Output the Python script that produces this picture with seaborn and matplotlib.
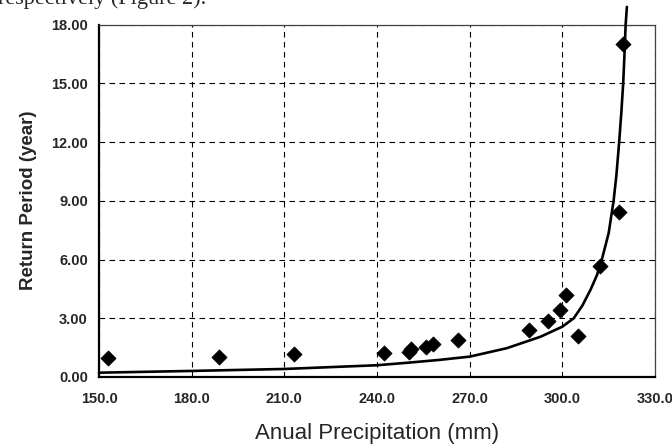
import matplotlib
matplotlib.use("Agg")
import matplotlib.pyplot as plt
import seaborn as sns
import pandas as pd
from matplotlib.ticker import MultipleLocator, FormatStrFormatter

# Observed points (annual precipitation mm, return period years)
obs_precip = [152.9, 189.0, 213.0, 242.3, 250.5, 250.9, 255.9, 258.0, 266.2,
              289.1, 295.3, 299.1, 301.1, 305.2, 312.2, 318.5, 319.8]
obs_period = [0.96, 1.03, 1.15, 1.22, 1.30, 1.42, 1.52, 1.69, 1.89,
              2.40, 2.84, 3.41, 4.21, 2.09, 5.65, 8.45, 16.98]

# Fitted curve
fit_precip = [150.0, 180.0, 210.0, 240.0, 250.0, 260.0, 270.0, 282.0, 293.0,
              300.0, 303.7, 306.5, 309.2, 311.2, 312.8, 315.0, 316.6, 317.5,
              318.4, 319.1, 319.7, 320.1, 320.5, 320.9]
fit_period = [0.22, 0.31, 0.41, 0.60, 0.73, 0.87, 1.04, 1.47, 2.06,
              2.57, 3.0, 3.65, 4.48, 5.2, 6.0, 7.35, 9.0, 10.3,
              12.0, 13.5, 15.0, 16.4, 18.0, 18.9]

x_ticks = [150, 180, 210, 240, 270, 300, 330]
y_ticks = [0, 3, 6, 9, 12, 15, 18]

obs = pd.DataFrame({"precip": obs_precip, "period": obs_period})
fit = pd.DataFrame({"precip": fit_precip, "period": fit_period})

sns.set_style("white")
plt.rcParams["font.family"] = ["Liberation Sans", "DejaVu Sans"]

fig = plt.figure(figsize=(6.72, 4.47), dpi=100)
ax = fig.add_axes([99 / 672, 1 - 377 / 447, (655 - 99) / 672, (377 - 24.5) / 447])

sns.lineplot(data=fit, x="precip", y="period", ax=ax, color="black",
             linewidth=1.9, sort=False, clip_on=False, zorder=3)
sns.scatterplot(data=obs, x="precip", y="period", ax=ax, marker="D",
                color="black", s=60, edgecolor="black", linewidth=0.5, zorder=4)

ax.set_xlim(150, 330)
ax.set_ylim(0, 18)
ax.set_xticks(x_ticks)
ax.set_yticks(y_ticks)
ax.xaxis.set_major_formatter(FormatStrFormatter("%.1f"))
ax.yaxis.set_major_formatter(FormatStrFormatter("%.2f"))
ax.xaxis.set_minor_locator(MultipleLocator(10))
ax.yaxis.set_minor_locator(MultipleLocator(1))

ax.grid(True, which="major", linestyle=(0, (5, 4)), color="black", linewidth=0.8)
ax.tick_params(axis="both", which="both", direction="in", color="black")
ax.tick_params(axis="both", which="major", length=5, width=1)
ax.tick_params(axis="both", which="minor", length=5, width=1)
ax.tick_params(axis="x", which="major", pad=11, labelsize=10.5)
ax.tick_params(axis="y", which="major", pad=8, labelsize=10.5)
for lbl in ax.get_xticklabels() + ax.get_yticklabels():
    lbl.set_fontweight("bold")

for side in ["bottom", "left"]:
    ax.spines[side].set_color("black")
    ax.spines[side].set_linewidth(1.6)
for side in ["top", "right"]:
    ax.spines[side].set_color("#444444")
    ax.spines[side].set_linewidth(0.9)

ax.set_xlabel("Anual Precipitation (mm)", fontsize=16, labelpad=12)
ax.set_ylabel("Return Period (year)", fontsize=13.5, fontweight="bold", labelpad=10)

fig.text(-0.003, 1 - 4 / 447, "respectively (Figure 2).", fontsize=16,
         family=["Liberation Serif", "DejaVu Serif"], va="baseline", ha="left")

fig.savefig("out.png", dpi=100)
